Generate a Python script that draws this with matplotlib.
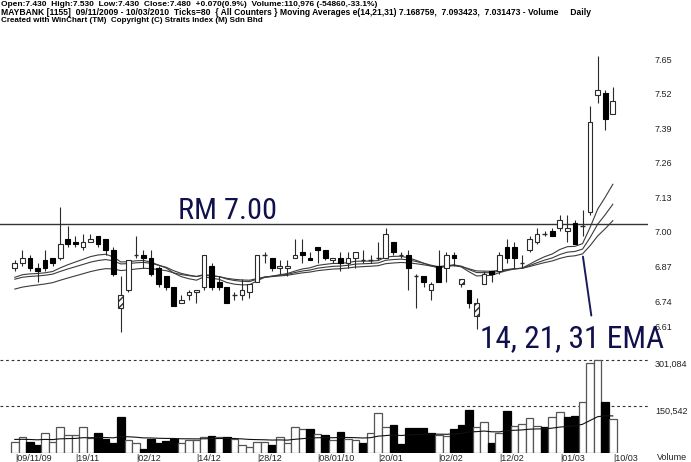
import os
import numpy as np
import matplotlib
matplotlib.use('Agg')
import matplotlib.pyplot as plt
from matplotlib import font_manager
from matplotlib.font_manager import FontProperties

# ---------------- data ----------------
date_labels = ['09/11/09', '19/11', '02/12', '14/12', '28/12', '08/01/10',
               '20/01', '02/02', '12/02', '01/03', '10/03']
date_index = [0, 8, 16, 24, 32, 40, 48, 56, 64, 72, 79]

opens = [6.85, 6.87, 6.89, 6.85, 6.88, 6.89, 6.89, 6.96, 6.95, 6.93,
         6.95, 6.97, 6.96, 6.92, 6.70, 6.77, 6.90, 6.90, 6.89, 6.85,
         6.82, 6.78, 6.72, 6.75, 6.76, 6.78, 6.86, 6.80, 6.78, 6.75,
         6.75, 6.76, 6.80, 6.90, 6.89, 6.85, 6.85, 6.89, 6.91, 6.89,
         6.93, 6.92, 6.88, 6.89, 6.87, 6.89, 6.88, 6.88, 6.89, 6.89,
         6.95, 6.90, 6.90, 6.82, 6.82, 6.77, 6.86, 6.85, 6.90, 6.79,
         6.77, 6.67, 6.79, 6.84, 6.84, 6.93, 6.93, 6.87, 6.92, 6.95,
         6.98, 6.99, 7.00, 6.99, 7.02, 7.01, 7.06, 7.50, 7.51, 7.43]
highs = [6.88, 6.92, 6.90, 6.87, 6.92, 6.89, 7.08, 7.01, 6.97, 6.98,
         6.98, 6.97, 6.96, 6.93, 6.82, 6.88, 6.97, 6.92, 6.92, 6.86,
         6.82, 6.78, 6.75, 6.77, 6.77, 6.90, 6.87, 6.82, 6.78, 6.76,
         6.81, 6.79, 6.90, 6.91, 6.89, 6.88, 6.88, 6.96, 6.96, 6.91,
         6.93, 6.92, 6.89, 6.91, 6.91, 6.91, 6.92, 6.90, 6.95, 7.00,
         6.95, 6.91, 6.92, 6.83, 6.82, 6.80, 6.92, 6.91, 6.91, 6.81,
         6.77, 6.74, 6.84, 6.84, 6.91, 6.96, 6.95, 6.90, 6.97, 7.00,
         6.99, 7.00, 7.05, 7.05, 7.03, 7.07, 7.46, 7.65, 7.52, 7.53]
lows = [6.84, 6.86, 6.84, 6.80, 6.84, 6.86, 6.88, 6.93, 6.93, 6.92,
        6.95, 6.93, 6.90, 6.82, 6.61, 6.76, 6.89, 6.85, 6.82, 6.78,
        6.77, 6.71, 6.72, 6.73, 6.72, 6.77, 6.77, 6.77, 6.72, 6.73,
        6.73, 6.74, 6.80, 6.87, 6.84, 6.83, 6.82, 6.89, 6.87, 6.88,
        6.87, 6.88, 6.87, 6.84, 6.85, 6.85, 6.87, 6.87, 6.88, 6.89,
        6.90, 6.89, 6.77, 6.70, 6.78, 6.73, 6.80, 6.80, 6.86, 6.78,
        6.70, 6.62, 6.79, 6.80, 6.83, 6.87, 6.85, 6.85, 6.91, 6.94,
        6.97, 6.97, 6.99, 6.95, 6.94, 6.97, 7.05, 7.47, 7.37, 7.43]
closes = [6.87, 6.89, 6.85, 6.84, 6.85, 6.87, 6.94, 6.94, 6.94, 6.95,
          6.96, 6.94, 6.92, 6.83, 6.75, 6.88, 6.90, 6.89, 6.83, 6.79,
          6.78, 6.71, 6.73, 6.76, 6.77, 6.90, 6.78, 6.78, 6.72, 6.75,
          6.77, 6.79, 6.90, 6.90, 6.85, 6.86, 6.86, 6.90, 6.90, 6.88,
          6.92, 6.89, 6.89, 6.87, 6.89, 6.91, 6.88, 6.88, 6.89, 6.98,
          6.91, 6.90, 6.85, 6.82, 6.80, 6.79, 6.80, 6.90, 6.89, 6.81,
          6.72, 6.72, 6.83, 6.83, 6.90, 6.89, 6.89, 6.87, 6.96, 6.98,
          6.98, 6.97, 7.03, 7.00, 6.94, 7.01, 7.40, 7.52, 7.41, 7.48]
hatched_days = [14, 59, 61]

volumes = [34000, 51000, 34000, 26000, 63000, 34000, 82000, 56000, 56000, 84000,
           47000, 65000, 43500, 31500, 115000, 42000, 30500, 13000, 45500, 31500,
           38000, 45500, 30500, 42000, 42000, 50000, 54000, 50000, 50000, 45000,
           24000, 17500, 34000, 34000, 26000, 50000, 30000, 84000, 78000, 78000,
           61000, 59000, 40000, 66000, 43500, 42000, 30500, 65000, 128000, 84000,
           89000, 28000, 80000, 79000, 80000, 65000, 57500, 54000, 77000, 91000,
           139000, 82000, 99000, 31500, 63000, 135000, 88000, 92000, 112000, 88000,
           84000, 115000, 133000, 117000, 119000, 166000, 290000, 301084, 165836, 110976]
volume_up = [1, 1, 0, 0, 1, 1, 1, 1, 1, 1,
             1, 0, 0, 0, 0, 1, 1, 0, 0, 0,
             0, 0, 1, 1, 1, 1, 0, 1, 0, 1,
             1, 1, 1, 1, 0, 1, 1, 1, 1, 0,
             1, 0, 1, 0, 1, 1, 0, 1, 1, 1,
             0, 0, 0, 0, 0, 0, 1, 1, 0, 0,
             0, 1, 1, 0, 1, 0, 1, 1, 1, 1,
             0, 1, 1, 0, 0, 1, 1, 1, 0, 1]

ema_periods = [14, 21, 31]
ema_start = [6.816, 6.809, 6.772]          # EMA values at the first bar (from picture)
volume_ema_period = 31
volume_ema_start = 43000                   # volume average at the first bar (from picture)
price_ticks = [7.65, 7.52, 7.39, 7.26, 7.13, 7.00, 6.87, 6.74, 6.61]
volume_ticks = [301084, 150542]
level_line = 7.015

header = ["Open:7.430  High:7.530  Low:7.430  Close:7.480  +0.070(0.9%)  Volume:110,976 (-54860,-33.1%)",
          "MAYBANK [1155]  09/11/2009 - 10/03/2010  Ticks=80  { All Counters } Moving Averages e(14,21,31) 7.168759,  7.093423,  7.031473 - Volume     Daily",
          "Created with WinChart (TM)  Copyright (C) Straits Index (M) Sdn Bhd"]

# ---------------- fonts ----------------
plt.rcParams['font.family'] = ['Liberation Sans', 'DejaVu Sans']


def find_condensed_sans():
    prefs = ['LiberationSansNarrow-Regular', 'RobotoCondensed-Regular', 'NotoSans-Condensed.',
             'NotoSansCondensed-Regular', 'OpenSansCondensed', 'DejaVuSansCondensed.']
    files = [f.fname for f in font_manager.fontManager.ttflist]
    for p in prefs:
        for fn in files:
            if p.lower() in os.path.basename(fn).lower():
                return fn
    return None


fn_cond = find_condensed_sans()
FP_BIG = FontProperties(fname=fn_cond) if fn_cond else FontProperties(family='Liberation Sans')
FP_BOLD = FontProperties(family='Liberation Sans', weight='bold')

W, H = 691, 462
fig = plt.figure(figsize=(W / 100, H / 100), dpi=100)
fig.patch.set_facecolor('white')
renderer = fig.canvas.get_renderer()


def px_axes(x0, y0, x1, y1):
    return fig.add_axes([x0 / W, 1 - y1 / H, (x1 - x0) / W, (y1 - y0) / H])


def fx(x):
    return x / W


def fy(y):
    return 1 - y / H


def fit_text(t, target_w):
    s = t.get_fontsize()
    w = t.get_window_extent(renderer).width
    t.set_fontsize(s * target_w / w)


ax = px_axes(0, 33, 648, 350)
axv = px_axes(0, 350, 648, 453)

n = len(closes)
x = np.arange(n)
o = np.array(opens); h = np.array(highs); l = np.array(lows); c = np.array(closes)

xl = ((0 - 14.8) / 7.57, (648 - 14.8) / 7.57)
for a in (ax, axv):
    a.set_xlim(*xl)
    for s in a.spines.values():
        s.set_visible(False)
    a.set_facecolor('none')

ax.set_ylim(7.8587 - 350 / 266, 7.8587 - 33 / 266)

edge = '#2a2a2a'
ax.vlines(x, l, h, color=edge, lw=0.8, zorder=2)
body_w = 0.62
for i in range(n):
    lo, hi = min(o[i], c[i]), max(o[i], c[i])
    if hi - lo < 0.004:
        ax.hlines(o[i], i - body_w / 2, i + body_w / 2, color=edge, lw=1.0, zorder=3)
        continue
    if i in hatched_days:
        ax.bar(i, hi - lo, bottom=lo, width=body_w, facecolor='white', edgecolor=edge,
               lw=0.8, hatch='/////', zorder=3)
    elif c[i] < o[i]:
        ax.bar(i, hi - lo, bottom=lo, width=body_w, facecolor='black', edgecolor='black',
               lw=0.8, zorder=3)
    else:
        ax.bar(i, hi - lo, bottom=lo, width=body_w, facecolor='white', edgecolor=edge,
               lw=0.8, zorder=3)


def ema(series, period, start):
    al = 2.0 / (period + 1)
    e = [start]
    for v in series[1:]:
        e.append(e[-1] + al * (v - e[-1]))
    return np.array(e)


emas = [ema(c, p, s0) for p, s0 in zip(ema_periods, ema_start)]
for e in emas:
    ax.plot(x, e, color='#3c3c3c', lw=0.8, zorder=1)

ax.axhline(level_line, color='#333333', lw=1.0, zorder=1)

ax.set_yticks(price_ticks)
ax.yaxis.tick_right()
ax.tick_params(axis='y', length=0, pad=5, labelsize=6.5, labelcolor='#222222')
ax.set_yticklabels(['%.2f' % v for v in price_ticks])
labs = ax.get_yticklabels()
for t in labs:
    t.set_va('top')
labs[-1].set_va('bottom')
ax.set_xticks([])

# annotations
navy = '#10104c'
t1 = fig.text(fx(178), fy(219.5), 'RM 7.00', fontproperties=FP_BIG, fontsize=23,
              color=navy, va='baseline', ha='left')
fit_text(t1, 99)
ax.annotate('', xy=(75, emas[2][75]), xytext=(591.7 / W, 1 - 318.3 / H),
            textcoords='figure fraction',
            arrowprops=dict(arrowstyle='-', color='#1a1a5a', lw=1.4))
t2 = fig.text(fx(480), fy(347), '14, 21, 31 EMA', fontproperties=FP_BIG, fontsize=23,
              color=navy, va='baseline', ha='left')
fit_text(t2, 185)

# ---------------- volume ----------------
vmax_px = 301084 / 92.7
axv.set_ylim((452.7 - 453) * vmax_px, (452.7 - 350) * vmax_px)
vol_colors = ['white' if u else 'black' for u in volume_up]
vol_edges = ['#555555' if u else 'black' for u in volume_up]
axv.bar(x, volumes, width=1.0, facecolor=vol_colors, edgecolor=vol_edges, lw=0.9, zorder=2)
vema = ema(np.array(volumes, float), volume_ema_period, volume_ema_start)
axv.plot(x, vema, color='#111111', lw=0.8, zorder=3)
for v in volume_ticks:
    axv.axhline(v, color='#333333', lw=0.8, ls=(0, (2.5, 2.5)), zorder=1)
axv.set_yticks(volume_ticks)
axv.yaxis.tick_right()
axv.tick_params(axis='y', length=0, pad=5, labelsize=6.5, labelcolor='#222222')
axv.set_yticklabels(['{:,}'.format(v) for v in volume_ticks])
for t in axv.get_yticklabels():
    t.set_va('top')
axv.set_xticks(date_index)
axv.set_xticklabels(['|' + d for d in date_labels], ha='left')
axv.tick_params(axis='x', length=0, pad=0.5, labelsize=6.5, labelcolor='#222222')
fig.text(fx(657), fy(458), 'Volume', fontsize=6.5, color='#222222', va='center', ha='left')

# ---------------- header ----------------
targets = [372.7, 588.0, 260.0]
ys = [4.3, 12.6, 21.0]
for txt, tw, yy in zip(header, targets, ys):
    t = fig.text(fx(1), fy(yy), txt, fontproperties=FP_BOLD, fontsize=7, color='black',
                 va='center', ha='left')
    fit_text(t, tw)

fig.savefig('out.png', dpi=100, facecolor='white')
